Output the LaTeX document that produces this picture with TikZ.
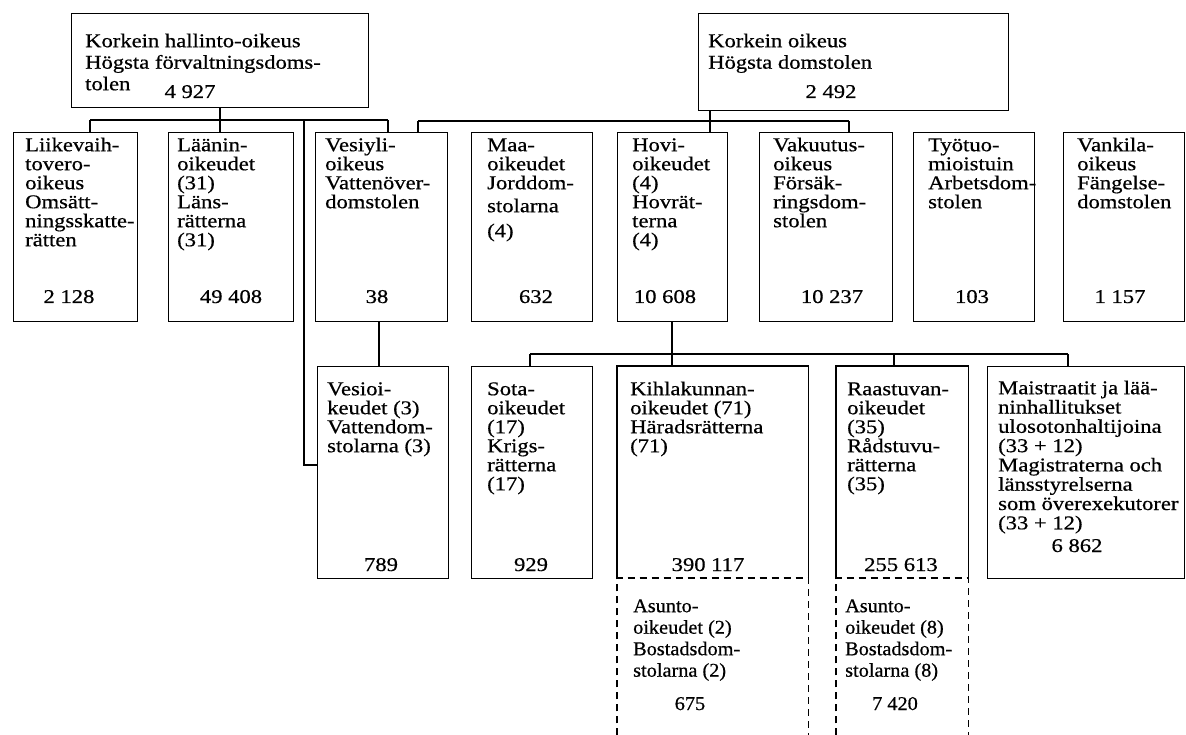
\documentclass[tikz,border=0pt]{standalone}
\usepackage{fontspec}
\setmainfont[FakeStretch=1.16,FakeBold=0.6]{Liberation Serif}
\newfontfamily\dashfont[FakeStretch=1.04,FakeBold=0.6]{Liberation Serif}
\newcommand\FLs{\rule{0pt}{15pt}}
\begin{document}
\begin{tikzpicture}[x=1pt,y=-1pt,
  box/.style={draw, line width=1.4pt, inner sep=0pt, anchor=north west},
  frame/.style={inner sep=0pt, anchor=north west},
  lbl/.style={anchor=north west, inner sep=0pt, align=left, font=\fontsize{19.5}{19}\selectfont},
  toplbl/.style={anchor=north west, inner sep=0pt, align=left, font=\fontsize{19.5}{21.5}\selectfont},
  dlbl/.style={anchor=north west, inner sep=0pt, align=left, font=\dashfont\fontsize{19.5}{21.5}\selectfont},
  num/.style={anchor=base, inner sep=0pt, font=\fontsize{19.5}{19}\selectfont},
  dnum/.style={anchor=base, inner sep=0pt, font=\dashfont\fontsize{19.5}{19}\selectfont},
  conn/.style={line width=1.2pt},
  dashline/.style={line width=1.2pt, dash pattern=on 7pt off 5pt}
]
\useasboundingbox (0,0) rectangle (1186,735);
% top boxes
\node[box, minimum width=297pt, minimum height=94pt] (tl) at (71,13) {};
\node[box, minimum width=310pt, minimum height=97pt] (tr) at (698,13) {};
\node[toplbl] (tlt) at (85,32) {\FLs Korkein hallinto-oikeus\\Högsta förvaltningsdoms-\\tolen};
\node[num] (tln) at (190,98) {4 927};
\node[toplbl] (trt) at (708,32) {\FLs Korkein oikeus\\Högsta domstolen};
\node[num] (trn) at (831,98) {2 492};
% row 1
\node[box, minimum width=124pt, minimum height=189pt] (b1) at (13,132) {};
\node[box, minimum width=125pt, minimum height=189pt] (b2) at (168,132) {};
\node[box, minimum width=132pt, minimum height=189pt] (b3) at (315,132) {};
\node[box, minimum width=121pt, minimum height=189pt] (b4) at (471,132) {};
\node[box, minimum width=110pt, minimum height=189pt] (b5) at (617,132) {};
\node[box, minimum width=133pt, minimum height=189pt] (b6) at (759,132) {};
\node[box, minimum width=121pt, minimum height=189pt] (b7) at (913,132) {};
\node[box, minimum width=121pt, minimum height=189pt] (b8) at (1063,132) {};
\node[lbl] (t1) at (25,136) {\FLs Liikevaih-\\tovero-\\oikeus\\Omsätt-\\ningsskatte-\\rätten};
\node[lbl] (t2) at (177,136) {\FLs Läänin-\\oikeudet\\(31)\\Läns-\\rätterna\\(31)};
\node[lbl] (t3) at (325,136) {\FLs Vesiyli-\\oikeus\\Vattenöver-\\domstolen};
\node[lbl] (t4) at (487,136) {\FLs Maa-\\oikeudet\\Jorddom-\\[4pt]stolarna\\[6pt](4)};
\node[lbl] (t5) at (632,136) {\FLs Hovi-\\oikeudet\\(4)\\Hovrät-\\terna\\(4)};
\node[lbl] (t6) at (773,136) {\FLs Vakuutus-\\oikeus\\Försäk-\\ringsdom-\\stolen};
\node[lbl] (t7) at (928,136) {\FLs Työtuo-\\mioistuin\\Arbetsdom-\\stolen};
\node[lbl] (t8) at (1077,136) {\FLs Vankila-\\oikeus\\Fängelse-\\domstolen};
\node[num] (n1) at (69,303) {2 128};
\node[num] (n2) at (231,303) {49 408};
\node[num] (n3) at (377,303) {38};
\node[num] (n4) at (536,303) {632};
\node[num] (n5) at (665,303) {10 608};
\node[num] (n6) at (832,303) {10 237};
\node[num] (n7) at (972,303) {103};
\node[num] (n8) at (1120,303) {1 157};
% row 2
\node[box, minimum width=131pt, minimum height=212pt] (vo) at (317,366) {};
\node[box, minimum width=121pt, minimum height=212pt] (so) at (471,366) {};
\node[frame, minimum width=191pt, minimum height=212pt] (ki) at (617,366) {};
\node[frame, minimum width=132pt, minimum height=212pt] (ra) at (836,366) {};
\node[box, minimum width=197pt, minimum height=212pt] (ma) at (987,366) {};
\draw[line width=1.4pt] (ki.south west) -- (ki.north west) -- (ki.north east) -- (ki.south east);
\draw[line width=1.4pt] (ra.south west) -- (ra.north west) -- (ra.north east) -- (ra.south east);
\node[lbl] (t9) at (327,380) {\FLs Vesioi-\\keudet (3)\\Vattendom-\\stolarna (3)};
\node[lbl] (t10) at (487,380) {\FLs Sota-\\oikeudet\\(17)\\Krigs-\\rätterna\\(17)};
\node[lbl] (t11) at (630,380) {\FLs Kihlakunnan-\\oikeudet (71)\\Häradsrätterna\\(71)};
\node[lbl] (t12) at (847,380) {\FLs Raastuvan-\\oikeudet\\(35)\\Rådstuvu-\\rätterna\\(35)};
\node[lbl, font=\fontsize{19.5}{19.3}\selectfont] (t13) at (998,379) {\FLs Maistraatit ja lää-\\ninhallitukset\\ulosotonhaltijoina\\(33 + 12)\\Magistraterna och\\länsstyrelserna\\som överexekutorer\\(33 + 12)};
\node[num] (n9) at (381,571) {789};
\node[num] (n10) at (531,571) {929};
\node[num] (n11) at (708,571) {390 117};
\node[num] (n12) at (901,571) {255 613};
\node[num] (n13) at (1077,552) {6 862};
% dashed boxes
\node[frame, minimum width=191pt, minimum height=157pt] (as1) at (617,578) {};
\node[frame, minimum width=132pt, minimum height=157pt] (as2) at (836,578) {};
\draw[dashline] (as1.south west) -- (as1.north west) -- (as1.north east) -- (as1.south east);
\draw[dashline] (as2.south west) -- (as2.north west) -- (as2.north east) -- (as2.south east);
\node[dlbl] (t14) at (633,597) {\FLs Asunto-\\oikeudet (2)\\Bostadsdom-\\stolarna (2)};
\node[dlbl] (t15) at (845,597) {\FLs Asunto-\\oikeudet (8)\\Bostadsdom-\\stolarna (8)};
\node[dnum] (n14) at (690,710) {675};
\node[dnum] (n15) at (895,710) {7 420};
% connectors: left group
\coordinate (lbL) at (90,120);
\coordinate (lbR) at (388,120);
\coordinate (lbS) at (220,120);
\coordinate (lv) at (304,120);
\coordinate (lvB) at (304,465);
\draw[conn] (lbL) -- (lbR);
\draw[conn] (lbL) -- (lbL |- b1.north);
\draw[conn] (lbR) -- (lbR |- b3.north);
\draw[conn] (tl.south -| lbS) -- (lbS |- b2.north);
\draw[conn] (lv) -- (lvB) -- (lvB -| vo.west);
% connectors: right group
\coordinate (rbL) at (418,121);
\coordinate (rbR) at (849,121);
\coordinate (rbS) at (710,121);
\draw[conn] (rbL) -- (rbR);
\draw[conn] (rbL) -- (rbL |- b3.north);
\draw[conn] (rbR) -- (rbR |- b6.north);
\draw[conn] (tr.south -| rbS) -- (rbS |- b5.north);
% Vesiyli -> Vesioi
\coordinate (vs) at (379,340);
\draw[conn] (b3.south -| vs) -- (vo.north -| vs);
% row 2 bus
\coordinate (b2L) at (530,354);
\coordinate (b2R) at (1068,354);
\coordinate (b2S) at (672,354);
\coordinate (b2Q) at (894,354);
\draw[conn] (b2L) -- (b2R);
\draw[conn] (b2L) -- (b2L |- so.north);
\draw[conn] (b2R) -- (b2R |- ma.north);
\draw[conn] (b2Q) -- (b2Q |- ra.north);
\draw[conn] (b5.south -| b2S) -- (b2S |- ki.north);
\end{tikzpicture}
\end{document}
